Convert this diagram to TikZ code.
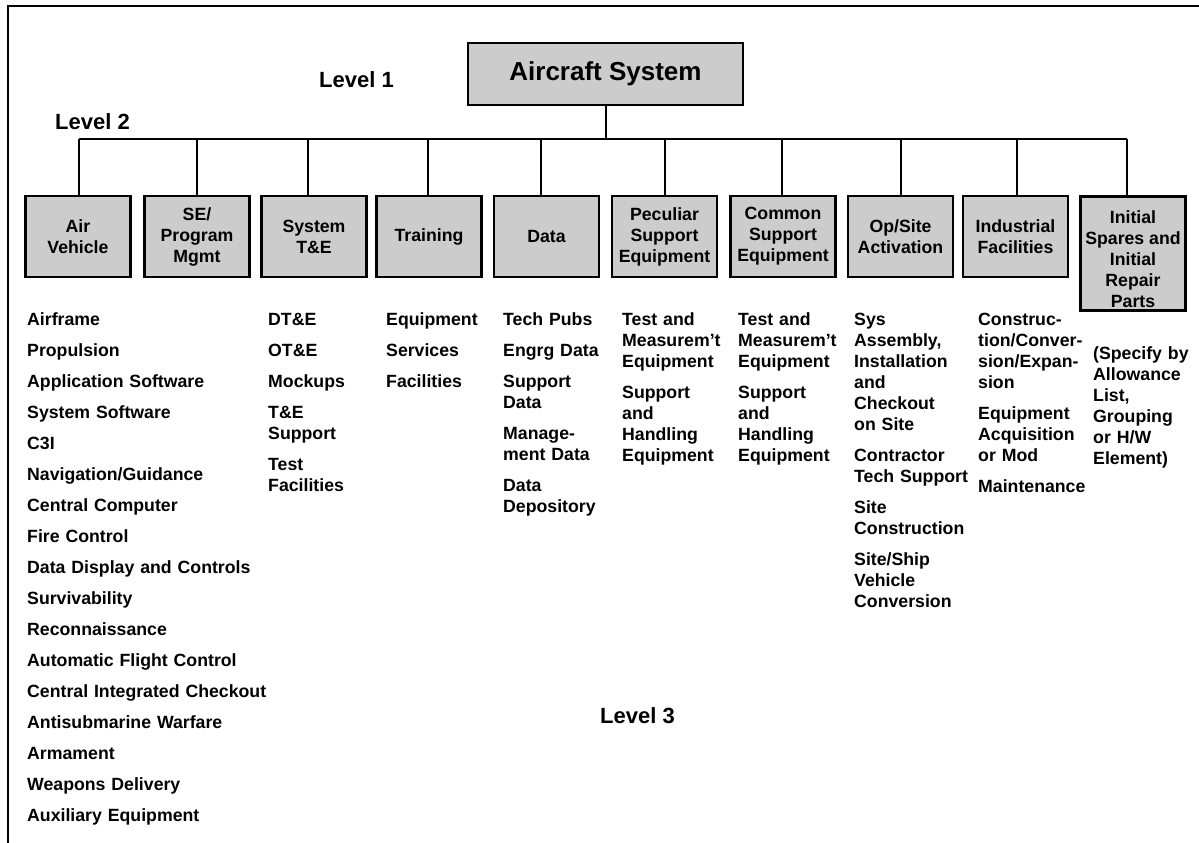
\documentclass[tikz,border=0pt]{standalone}
\usepackage{fontspec}
\setmainfont{Liberation Sans}
\newcommand\itemfont{\fontsize{17.7pt}{21pt}\selectfont\bfseries}
\newcommand\levelfont{\fontsize{22pt}{26pt}\selectfont\bfseries}
\newcommand\titlefont{\fontsize{26pt}{30pt}\selectfont\bfseries}
\definecolor{boxgray}{RGB}{204,204,204}
\tikzset{
  wbsbox/.style={draw=black, fill=boxgray, line width=2.5pt, align=center,
    font=\itemfont, inner sep=1pt, minimum width=105pt, minimum height=81pt},
  wbslist/.style={anchor=base west, inner sep=0pt, align=left, font=\itemfont, text width=#1},
  wbslist/.default=125pt,
  levellabel/.style={anchor=west, inner sep=0pt, font=\levelfont},
  conn/.style={draw=black, line width=2pt},
}
\begin{document}
\begin{tikzpicture}[x=1pt,y=-1pt]
\useasboundingbox (0,0) rectangle (1199,843);
% frame
\draw[line width=2pt] (7.5,843) -- (7.5,6) -- (1199,6);
% title
\node[wbsbox, font=\titlefont, minimum width=275pt, minimum height=62pt] (title) at (605.5,74) {Aircraft System};
% level labels
\node[levellabel] (lv1) at (319,80) {Level 1};
\node[levellabel] (lv2) at (55,122) {Level 2};
\node[levellabel] (lv3) at (600,716) {Level 3};
% level 2 boxes
\node[wbsbox] (av) at (78,236.5) {Air\\Vehicle};
\node[wbsbox] (se) at (197,236.5) {SE/\\Program\\Mgmt};
\node[wbsbox] (te) at (314,236.5) {System\\T\&E};
\node[wbsbox] (tr) at (429,236.5) {Training};
\node[wbsbox] (da) at (546.5,236.5) {Data};
\node[wbsbox] (pe) at (664.5,236.5) {Peculiar\\Support\\Equipment};
\node[wbsbox] (co) at (783,236.5) {Common\\Support\\Equipment};
\node[wbsbox] (op) at (900.5,236.5) {Op/Site\\Activation};
\node[wbsbox] (in) at (1015.5,236.5) {Industrial\\Facilities};
\node[wbsbox, minimum height=114pt] (is) at (1133,253.5) {\rule{0pt}{25pt}Initial\\Spares and\\Initial\\Repair\\Parts};
% connectors
\coordinate (busL) at (79,139);
\coordinate (busR) at (1127,139);
\draw[conn] (busL) -- (busR);
\draw[conn] (title.south) -- (title.south |- busL);
\draw[conn] ([xshift=1pt]av.north) -- ([xshift=1pt]av.north |- busL);
\draw[conn] (se.north) -- (se.north |- busL);
\draw[conn] ([xshift=-6pt]te.north) -- ([xshift=-6pt]te.north |- busL);
\draw[conn] ([xshift=-1pt]tr.north) -- ([xshift=-1pt]tr.north |- busL);
\draw[conn] ([xshift=-5.5pt]da.north) -- ([xshift=-5.5pt]da.north |- busL);
\draw[conn] (pe.north) -- (pe.north |- busL);
\draw[conn] ([xshift=-1pt]co.north) -- ([xshift=-1pt]co.north |- busL);
\draw[conn] (op.north) -- (op.north |- busL);
\draw[conn] ([xshift=1.5pt]in.north) -- ([xshift=1.5pt]in.north |- busL);
\draw[conn] ([xshift=-6pt]is.north) -- ([xshift=-6pt]is.north |- busL);
% level 3 lists
\node[wbslist=260pt] (lav) at (27,325) {Airframe\\[10pt]Propulsion\\[10pt]Application Software\\[10pt]System Software\\[10pt]C3I\\[10pt]Navigation/Guidance\\[10pt]Central Computer\\[10pt]Fire Control\\[10pt]Data Display and Controls\\[10pt]Survivability\\[10pt]Reconnaissance\\[10pt]Automatic Flight Control\\[10pt]Central Integrated Checkout\\[10pt]Antisubmarine Warfare\\[10pt]Armament\\[10pt]Weapons Delivery\\[10pt]Auxiliary Equipment};
\node[wbslist] (lte) at (268,325) {DT\&E\\[10pt]OT\&E\\[10pt]Mockups\\[10pt]T\&E\\Support\\[10pt]Test\\Facilities};
\node[wbslist] (ltr) at (386,325) {Equipment\\[10pt]Services\\[10pt]Facilities};
\node[wbslist] (lda) at (503,325) {Tech Pubs\\[10pt]Engrg Data\\[10pt]Support\\Data\\[10pt]Manage-\\ment Data\\[10pt]Data\\Depository};
\node[wbslist] (lpe) at (622,325) {Test and\\Measurem’t\\Equipment\\[10pt]Support\\and\\Handling\\Equipment};
\node[wbslist] (lco) at (738,325) {Test and\\Measurem’t\\Equipment\\[10pt]Support\\and\\Handling\\Equipment};
\node[wbslist] (lop) at (854,325) {Sys\\Assembly,\\Installation\\and\\Checkout\\on Site\\[10pt]Contractor\\Tech Support\\[10pt]Site\\Construction\\[10pt]Site/Ship\\Vehicle\\Conversion};
\node[wbslist] (lin) at (978,325) {Construc-\\tion/Conver-\\sion/Expan-\\sion\\[10pt]Equipment\\Acquisition\\or Mod\\[10pt]Maintenance};
\node[wbslist] (lis) at (1093,359) {(Specify by\\Allowance\\List,\\Grouping\\or H/W\\Element)};
\end{tikzpicture}
\end{document}
